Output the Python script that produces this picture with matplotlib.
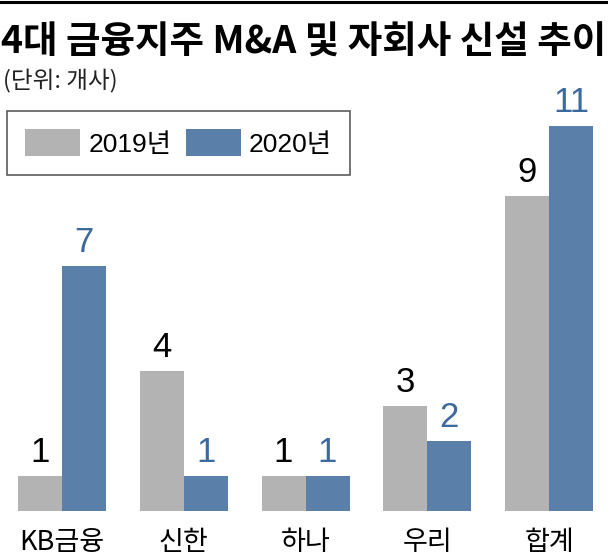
import matplotlib
matplotlib.use("Agg")
import matplotlib.pyplot as plt
from matplotlib.patches import Patch
import numpy as np

categories = ["KB금융", "신한", "하나", "우리", "합계"]
v2019 = [1, 4, 1, 3, 9]
v2020 = [7, 1, 1, 2, 11]
series_names = ["2019년", "2020년"]

GRAY = "#b3b3b3"
BLUE = "#5a7fa8"
BLUE_TXT = "#3d6a9e"
FONT = ["Liberation Sans", "Noto Sans CJK KR", "DejaVu Sans"]
KFONT = ["Noto Sans CJK KR", "DejaVu Sans"]

plt.rcParams["font.family"] = FONT

W, H = 608, 555
fig = plt.figure(figsize=(W / 100, H / 100), dpi=100)

# axes: baseline at 511px from top, 35px per unit
ax = fig.add_axes([0, (H - 511) / H, 1, 511 / H])
ax.set_xlim(-62 / 121.75, 546 / 121.75)
ax.set_ylim(0, 511 / 35)
ax.axis("off")

x = np.arange(len(categories))
bw = 44 / 121.75
b1 = ax.bar(x - bw / 2, v2019, bw, color=GRAY, edgecolor="none")
b2 = ax.bar(x + bw / 2, v2020, bw, color=BLUE, edgecolor="none")

for rect, v in zip(b1, v2019):
    ax.annotate(str(v), (rect.get_x() + rect.get_width() / 2, v),
                xytext=(0, 10), textcoords="offset points",
                ha="center", va="baseline", fontsize=25, color="black")
for rect, v in zip(b2, v2020):
    ax.annotate(str(v), (rect.get_x() + rect.get_width() / 2, v),
                xytext=(0, 10), textcoords="offset points",
                ha="center", va="baseline", fontsize=25, color=BLUE_TXT)

for xi, c in zip(x, categories):
    ax.text(xi, -0.5, c, ha="center", va="top", fontsize=19.5,
            family=KFONT, color="black")

# top rule
fig.add_artist(plt.Line2D([0, 1], [1 - 1.5 / H, 1 - 1.5 / H], color="black",
                          linewidth=2.2, transform=fig.transFigure))

fig.text(1 / W, 1 - 42 / H, "4대 금융지주 M&A 및 자회사 신설 추이",
         ha="left", va="center", fontsize=27, fontweight="heavy",
         family=KFONT, color="black")
fig.text(3 / W, 1 - 81 / H, "(단위: 개사)", ha="left", va="center",
         fontsize=17, family=KFONT, color="#222222")

handles = [Patch(facecolor=GRAY, edgecolor="none"),
           Patch(facecolor=BLUE, edgecolor="none")]
leg = fig.legend(handles, series_names, loc="upper left",
                 bbox_to_anchor=(7 / W, 1 - 111 / H), ncol=2,
                 fontsize=19, frameon=True, fancybox=False,
                 handlelength=2.08, handleheight=1.17,
                 handletextpad=0.3, columnspacing=0.55,
                 borderpad=0.7, borderaxespad=0)
leg.get_frame().set_edgecolor("#333333")
leg.get_frame().set_linewidth(1.2)

fig.savefig("out.png", dpi=100)
